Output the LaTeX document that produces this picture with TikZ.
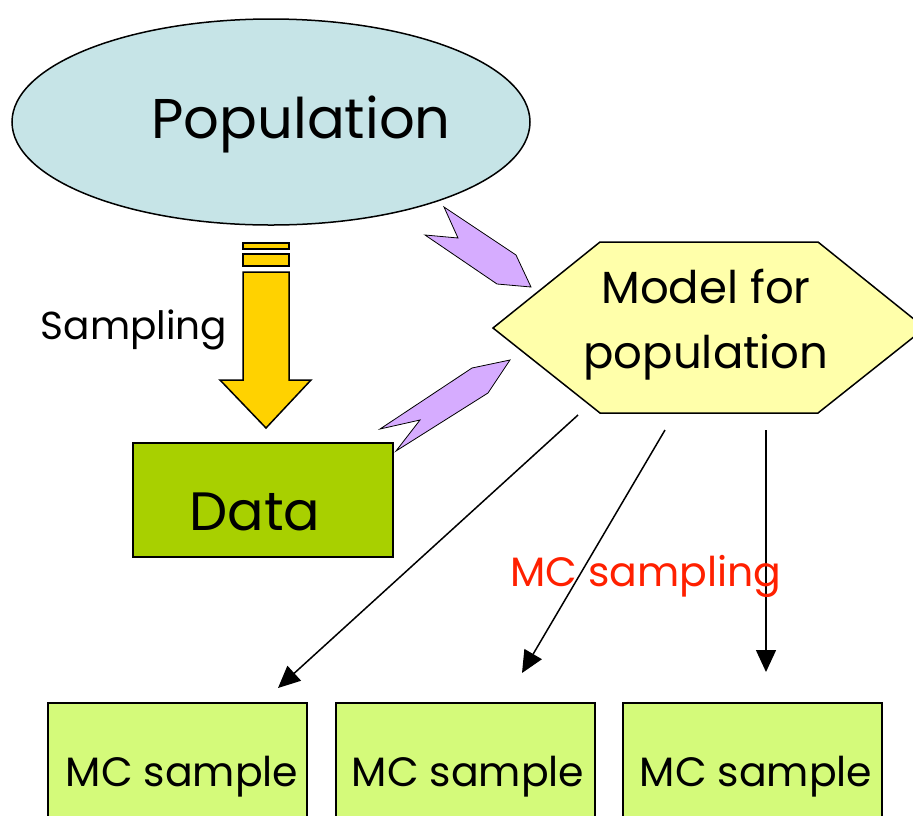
\documentclass[tikz,border=0pt]{standalone}
\usepackage{fontspec}
\setmainfont{Poppins}
\usetikzlibrary{arrows.meta}

\definecolor{popfill}{RGB}{198,228,231}
\definecolor{datafill}{RGB}{168,208,0}
\definecolor{modelfill}{RGB}{255,255,170}
\definecolor{mcfill}{RGB}{212,250,122}
\definecolor{zapfill}{RGB}{214,172,255}
\definecolor{sampfill}{RGB}{255,210,0}
\definecolor{mcred}{RGB}{255,32,0}

\tikzset{
  mcbox/.style={draw, fill=mcfill, minimum width=259pt, minimum height=140pt, anchor=north west},
  mctext/.style={font=\fontsize{41}{48}\selectfont},
  mcarrow/.style={-{Triangle[length=22pt,width=20pt]}},
  zap/.style={draw, thick, fill=zapfill, line join=miter}
}

\begin{document}
\begin{tikzpicture}[x=1pt, y=-1pt, line width=1.5pt]
	\useasboundingbox (0,0) rectangle (913,815);
	\clip (0,0) rectangle (913,815);

	\coordinate (M1) at (578,415);
	\coordinate (M2) at (665,430);
	\coordinate (M3) at (766,430);

	\draw [fill=popfill] (271,122) ellipse (259pt and 103pt);
	\node [font=\fontsize{56}{62}\selectfont] (pop) at (301,124) {Population};

	\draw [fill=sampfill] (243,243) rectangle (289,249);
	\draw [fill=sampfill] (243,254) rectangle (289,266);
	\draw [fill=sampfill, line join=miter] (243,272) -- (289,272) -- (289,380) -- (311,380) -- (266,428) -- (220,380) -- (243,380) -- cycle;
	\node [font=\fontsize{39}{44}\selectfont] (sampling) at (134,330) {Sampling};

	\draw [fill=datafill] (133,443) rectangle (393,557);
	\node [font=\fontsize{54}{60}\selectfont] (data) at (255,512) {Data};

	\draw [fill=modelfill] (493,328) -- (600,242) -- (818,242) -- (925,328) -- (818,413) -- (600,413) -- cycle;
	\node [align=center, font=\fontsize{45}{65}\selectfont] (model) at (706,325) {Model for\\ population};

	\draw [zap] (444,207) -- (458,238) -- (425,235) -- (497,284) -- (531,287) -- (516,255) -- cycle;
	\draw [zap] (510,360) -- (488,393) -- (396,451) -- (420,420) -- (380,429) -- (472,368) -- cycle;

	\node [mcbox] (mc1) at (47,702) {};
	\node [mcbox] (mc2) at (335,702) {};
	\node [mcbox] (mc3) at (622,702) {};
	\foreach \i/\x in {1/182, 2/468, 3/756}
		\node [mctext] (mclab\i) at (\x,777) {MC sample};

	\draw [mcarrow] (M1) -- (278,688);
	\draw [mcarrow] (M2) -- (522,673);
	\draw [mcarrow] (M3) -- (766,672);
	\node [mctext, text=mcred] (mcsampling) at (646,576) {MC sampling};
\end{tikzpicture}
\end{document}
